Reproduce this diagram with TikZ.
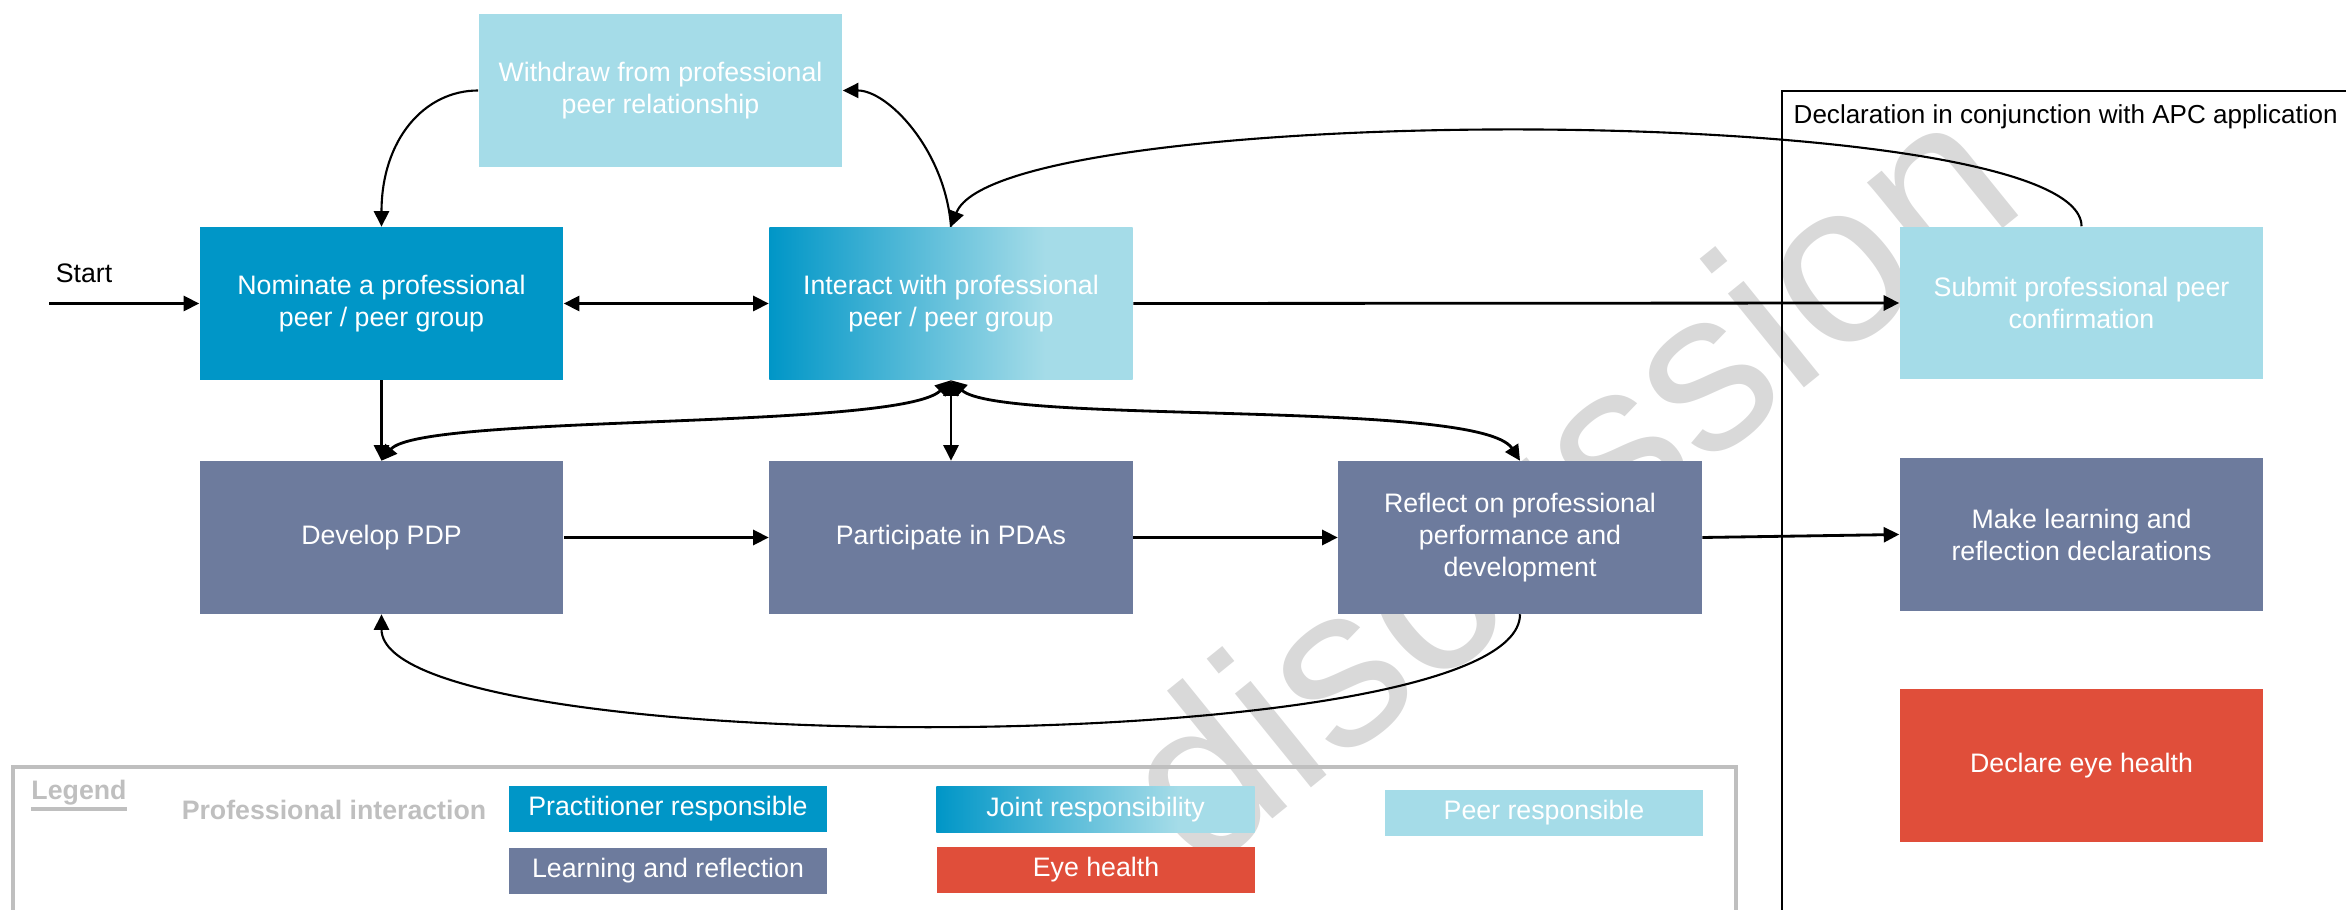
\documentclass[tikz,border=0pt]{standalone}
\usepackage{fontspec}
\setmainfont{Liberation Sans}
\usetikzlibrary{arrows.meta}
\definecolor{pblue}{RGB}{0,150,199}
\definecolor{plight}{RGB}{165,220,232}
\definecolor{lslate}{RGB}{109,123,157}
\definecolor{ered}{RGB}{224,78,58}
\definecolor{lgray}{RGB}{191,191,191}
\definecolor{wmgray}{RGB}{217,217,217}
\pgfdeclarehorizontalshading{jointshade}{100bp}{color(0bp)=(pblue); color(25bp)=(pblue); color(63bp)=(plight); color(100bp)=(plight)}
\tikzset{
  box/.style={rectangle, inner sep=0pt, minimum width=3.63cm, minimum height=1.52cm, align=center, text=white, font=\fontsize{7.6}{9.1}\selectfont},
  prac/.style={box, fill=pblue},
  peer/.style={box, fill=plight},
  learn/.style={box, fill=lslate},
  eye/.style={box, fill=ered},
  joint/.style={box, shade, shading=jointshade},
  legbox/.style={rectangle, inner sep=0pt, minimum width=3.18cm, minimum height=0.46cm, text=white, font=\fontsize{7.6}{9.1}\selectfont},
  legtext/.style={inner sep=0pt, text=lgray, font=\bfseries\fontsize{7.6}{9.1}\selectfont},
  thick conn/.style={line width=0.8pt},
  thin conn/.style={line width=0.6pt},
}
\begin{document}
\begin{tikzpicture}[x=0.01cm, y=-0.01cm, >={Triangle[length=1.55mm,width=1.5mm]}]
\useasboundingbox (0,0) rectangle (2346,910);
% watermark
\node[inner sep=0pt, anchor=base west, rotate=39, text=wmgray, font=\fontsize{65}{65}\selectfont] (wm) at (1200,878) {discussion};
% frames
\draw[line width=0.5pt] (2346,91) -- (1782,91) -- (1782,910);
\node[anchor=west, inner sep=0pt, font=\fontsize{7.4}{9}\selectfont] (decl) at (1793,117) {Declaration in conjunction with APC application};
\draw[lgray, line width=0.9pt] (13,910) -- (13,767) -- (1736,767) -- (1736,910);
% main boxes
\node[peer] (withdraw) at (660.5,90.5) {Withdraw from professional\\peer relationship};
\node[prac] (nominate) at (381.5,303.5) {Nominate a professional\\peer / peer group};
\node[joint] (interact) at (951,303.5) {Interact with professional\\peer / peer group};
\node[peer] (submit) at (2081.5,303) {Submit professional peer\\confirmation};
\node[learn] (develop) at (381.5,537.5) {Develop PDP};
\node[learn] (participate) at (951,537.5) {Participate in PDAs};
\node[learn] (reflect) at (1520,537.5) {Reflect on professional\\performance and\\development};
\node[learn] (makelearn) at (2081.5,534.5) {Make learning and\\reflection declarations};
\node[eye] (eyehealth) at (2081.5,765.5) {Declare eye health};
% start
\node[inner sep=0pt, font=\fontsize{7.6}{9.1}\selectfont] (starttext) at (84,273) {Start};
\coordinate (startpt) at (49,303.5);
% connectors
\draw[thick conn,->] (startpt) -- (nominate.west);
\draw[thick conn,<->] (nominate.east) -- (interact.west);
\draw[thick conn,->] (interact.east) -- (submit.west);
\draw[thick conn,->] (develop.east) -- (participate.west);
\draw[thick conn,->] (participate.east) -- (reflect.west);
\draw[thick conn,->] (reflect.east) -- (makelearn.west);
\draw[thin conn,->] (nominate.south) -- (develop.north);
\draw[thin conn,<->] (interact.south) -- (participate.north);
\draw[thin conn,->] (withdraw.west) .. controls +(-54,0) and +(0,-87) .. (nominate.north);
\draw[thin conn,->] (interact.north) .. controls +(-6,-77) and +(45,0) .. (withdraw.east);
\draw[thin conn,->] (submit.north) .. controls +(0,-127) and +(49,-127) .. (interact.north);
\draw[thick conn,<->] (develop.north) .. controls +(38.5,-47) and +(-51,50) .. (interact.south);
\draw[thick conn,<->] (interact.south) .. controls +(49,45) and +(-40,-62) .. (reflect.north);
\draw[thin conn,->] (reflect.south) .. controls +(0,148) and +(0,148) .. (develop.south);
% legend
\node[legtext] (legendlbl) at (79,793) {Legend};
\draw[lgray, line width=1.2pt] ([yshift=-2.5pt]legendlbl.base west) -- ([yshift=-2.5pt]legendlbl.base east);
\node[legtext] (profint) at (334,810) {Professional interaction};
\node[legbox, fill=pblue] (legprac) at (668,809) {Practitioner responsible};
\node[legbox, fill=lslate] (leglearn) at (668,871) {Learning and reflection};
\node[legbox, shade, shading=jointshade] (legjoint) at (1095.5,809.5) {Joint responsibility};
\node[legbox, fill=ered] (legeye) at (1096,870) {Eye health};
\node[legbox, fill=plight] (legpeer) at (1544,813) {Peer responsible};
\end{tikzpicture}
\end{document}
